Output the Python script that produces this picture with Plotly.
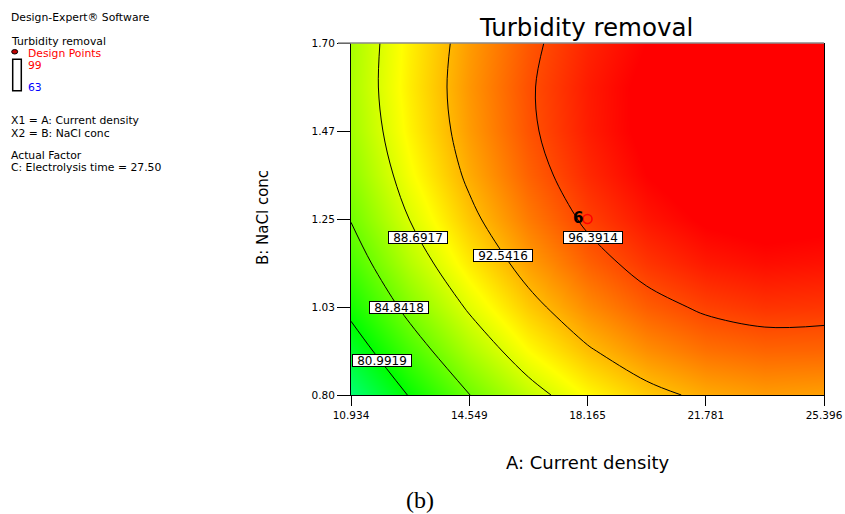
import plotly.graph_objects as go

# Factor settings (actual units)
current_density = [10.934, 12.7418, 14.5495, 16.3573, 18.165, 19.9728, 21.7805, 23.5883, 25.396]
nacl_conc = [0.80, 0.9125, 1.025, 1.1375, 1.25, 1.3625, 1.475, 1.5875, 1.70]

# Predicted turbidity removal (%), one row per NaCl level (low -> high)
removal = [
    [76.95, 81.19, 84.80, 87.79, 90.15, 91.89, 93.00, 93.49, 93.35],
    [79.51, 83.51, 87.06, 89.99, 92.29, 93.96, 95.01, 95.44, 95.41],
    [81.70, 85.64, 89.00, 91.86, 94.10, 95.71, 96.70, 97.19, 97.10],
    [83.51, 87.39, 90.69, 93.41, 95.59, 97.14, 98.14, 98.56, 98.41],
    [84.95, 88.76, 92.00, 94.66, 96.75, 98.26, 99.20, 99.56, 99.35],
    [86.01, 89.76, 92.94, 95.54, 97.56, 99.01, 99.89, 100.19, 99.91],
    [86.70, 90.39, 93.50, 96.04, 98.00, 99.39, 100.20, 100.44, 100.10],
    [87.01, 90.64, 93.69, 96.16, 98.06, 99.39, 100.14, 100.31, 99.91],
    [86.95, 90.51, 93.50, 95.91, 97.75, 99.01, 99.70, 99.81, 99.35],
]

contour_levels = [80.9919, 84.8418, 88.6917, 92.5416, 96.3914]
level_labels = ["80.9919", "84.8418", "88.6917", "92.5416", "96.3914"]

x_ticks = [10.934, 14.5495, 18.165, 21.7805, 25.396]
x_tick_text = ["10.934", "14.549", "18.165", "21.781", "25.396"]
y_ticks = [0.80, 1.025, 1.25, 1.475, 1.70]
y_tick_text = ["0.80", "1.03", "1.25", "1.47", "1.70"]

design_point_a = [18.165]
design_point_b = [1.25]
design_point_reps = 6

response_low, response_high = 63, 99

SANS = "DejaVu Sans"

# Plot-area geometry in pixels, used to place free text in paper coordinates
L, R, T, B = 351, 824, 43, 395


def px(x):
    return (x - L) / (R - L)


def py(y):
    return (B - y) / (B - T)


fig = go.Figure()

fig.add_trace(go.Heatmap(
    x=current_density, y=nacl_conc, z=removal,
    zmin=response_low, zmax=response_high, zsmooth="best",
    colorscale=[[0.0, "rgb(0,0,255)"], [0.25, "rgb(0,255,255)"],
                [0.5, "rgb(0,255,0)"], [0.75, "rgb(255,255,0)"],
                [1.0, "rgb(255,0,0)"]],
    showscale=False, hoverinfo="skip",
))

for lv in contour_levels:
    fig.add_trace(go.Contour(
        x=current_density, y=nacl_conc, z=removal,
        autocontour=False,
        contours=dict(start=lv, end=lv, size=1, coloring="none"),
        line=dict(color="black", width=1, smoothing=1.0),
        showscale=False, hoverinfo="skip", showlegend=False,
    ))

fig.add_trace(go.Scatter(
    x=design_point_a, y=design_point_b, mode="markers",
    marker=dict(symbol="circle-open", color="red", size=9, line=dict(width=1.6, color="red")),
    hoverinfo="skip", showlegend=False,
))

annotations = []

# Boxed contour labels
label_pos = [(381.7, 360.7), (399.0, 307.7), (417.8, 237.7), (502.5, 255.3), (592.5, 237.5)]
for text, (lx, ly) in zip(level_labels, label_pos):
    annotations.append(dict(
        x=px(lx), y=py(ly), xref="paper", yref="paper", text=text, showarrow=False,
        font=dict(family=SANS, size=12, color="black"),
        bgcolor="white", bordercolor="black", borderwidth=1, borderpad=0,
        width=58, height=11, xanchor="center", yanchor="middle",
    ))

# Replicate count beside the centre point
annotations.append(dict(
    x=design_point_a[0], y=design_point_b[0], xref="x", yref="y",
    text="<b>%d</b>" % design_point_reps, showarrow=False, xshift=-10, yshift=1,
    font=dict(family=SANS, size=15, color="black"), xanchor="center", yanchor="middle",
))

# Titles
annotations.append(dict(x=px(586), y=py(28), xref="paper", yref="paper",
                        text="Turbidity removal", showarrow=False,
                        font=dict(family=SANS, size=24.5, color="black"),
                        xanchor="center", yanchor="middle"))
annotations.append(dict(x=px(587), y=py(462), xref="paper", yref="paper",
                        text="A: Current density", showarrow=False,
                        font=dict(family=SANS, size=18, color="black"),
                        xanchor="center", yanchor="middle"))
annotations.append(dict(x=px(263), y=py(218), xref="paper", yref="paper",
                        text="B: NaCl conc", showarrow=False, textangle=-90,
                        font=dict(family=SANS, size=15, color="black"),
                        xanchor="center", yanchor="middle"))
annotations.append(dict(x=px(420), y=py(500), xref="paper", yref="paper",
                        text="(b)", showarrow=False,
                        font=dict(family="Liberation Serif", size=24, color="black"),
                        xanchor="center", yanchor="middle"))

# Side information block
side_text = [
    ("Design-Expert® Software", 9, 17.5, "black"),
    ("Turbidity removal", 9, 41.5, "black"),
    ("Design Points", 26, 53, "red"),
    (str(response_high), 26, 65, "red"),
    (str(response_low), 26, 87.5, "blue"),
    ("X1 = A: Current density", 9, 120.5, "black"),
    ("X2 = B: NaCl conc", 9, 133, "black"),
    ("Actual Factor", 9, 155, "black"),
    ("C: Electrolysis time = 27.50", 9, 167.5, "black"),
]
for text, tx, ty, col in side_text:
    annotations.append(dict(x=px(tx), y=py(ty), xref="paper", yref="paper", text=text,
                            showarrow=False, font=dict(family=SANS, size=10.8, color=col),
                            xanchor="left", yanchor="middle"))

shapes = [
    # top frame edge, running out over the top tick
    dict(type="line", xref="paper", yref="paper", x0=px(338), x1=1, y0=1, y1=1,
         line=dict(color="#8a8a8a", width=1.5)),
    # response scale box
    dict(type="rect", xref="paper", yref="paper", x0=px(12.7), x1=px(21.3),
         y0=py(90.7), y1=py(59.3), line=dict(color="black", width=1.5), fillcolor="white"),
    # design point symbol
    dict(type="circle", xref="paper", yref="paper", x0=px(11.7), x1=px(17.7),
         y0=py(54), y1=py(49.5), line=dict(color="black", width=1), fillcolor="#c00000"),
]

fig.update_layout(
    width=845, height=514, autosize=False,
    margin=dict(l=L, r=845 - R, t=T, b=514 - B, pad=0, autoexpand=False),
    paper_bgcolor="white", plot_bgcolor="white",
    showlegend=False,
    annotations=annotations, shapes=shapes,
    xaxis=dict(range=[10.934, 25.396], tickvals=x_ticks, ticktext=x_tick_text,
               ticks="outside", ticklen=10, tickwidth=1, tickcolor="black",
               showline=True, linecolor="black", linewidth=1,
               showgrid=False, zeroline=False, automargin=False,
               tickfont=dict(family=SANS, size=10.5, color="black")),
    yaxis=dict(range=[0.80, 1.70], tickvals=y_ticks, ticktext=y_tick_text,
               ticks="outside", ticklen=13, tickwidth=1, tickcolor="black",
               showline=True, linecolor="black", linewidth=1, mirror=True,
               showgrid=False, zeroline=False, automargin=False,
               tickfont=dict(family=SANS, size=10.5, color="black")),
)

fig.write_html("out.html")
